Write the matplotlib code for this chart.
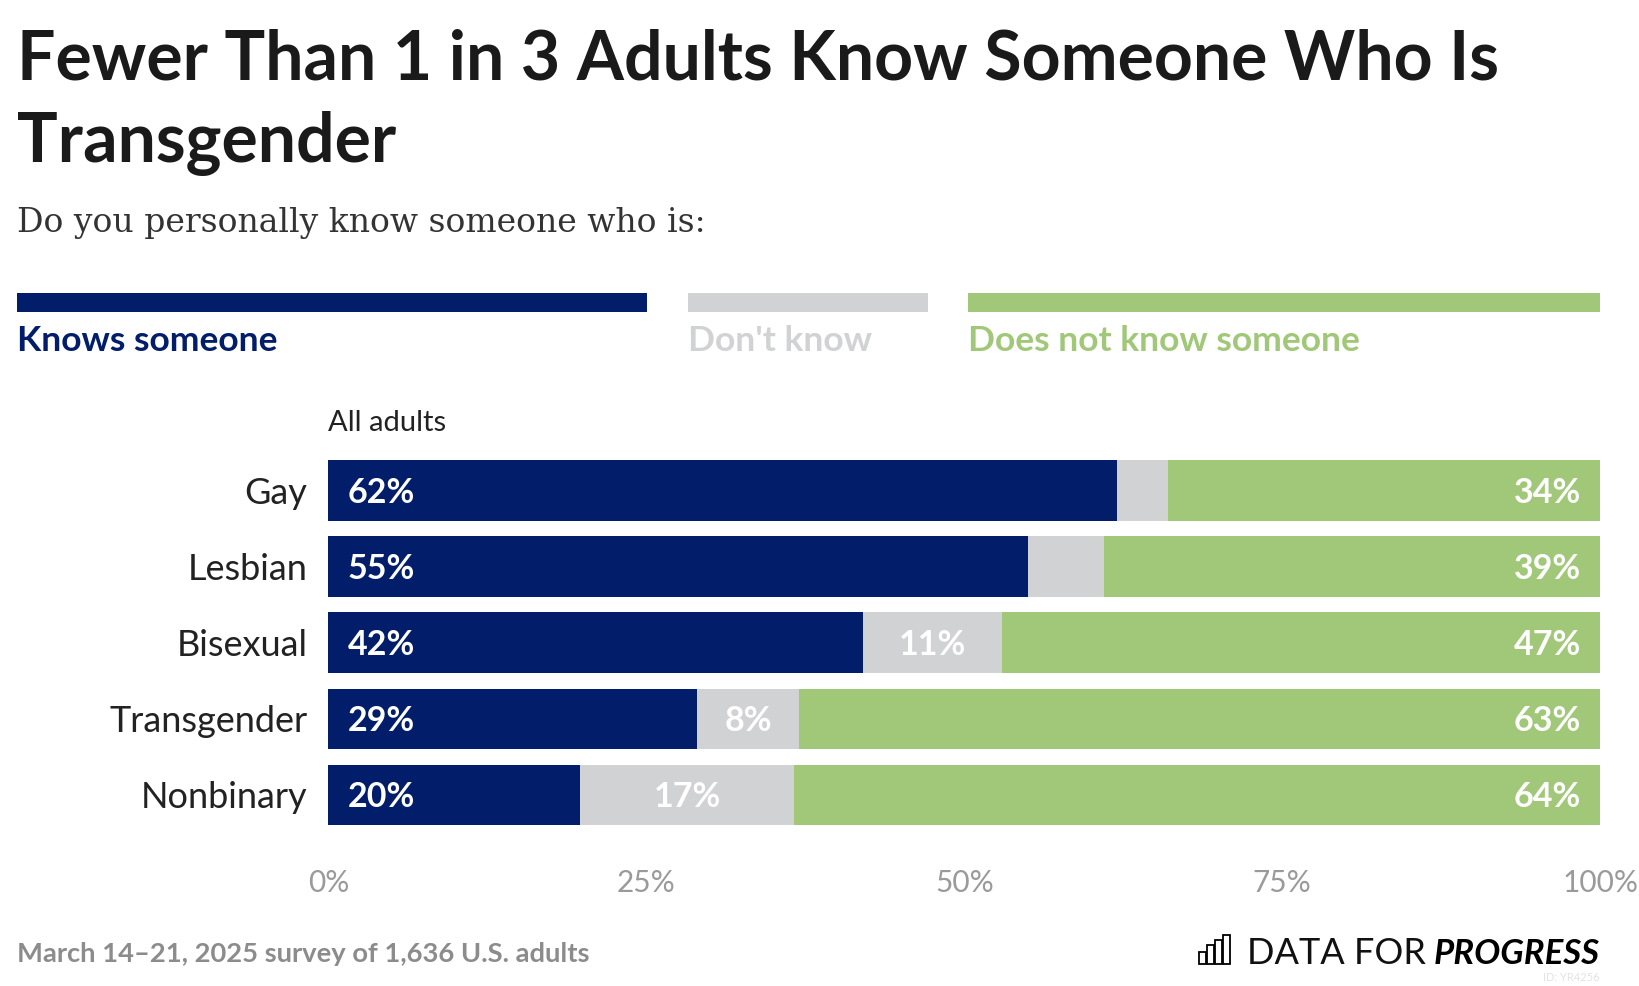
import numpy as np
import matplotlib
matplotlib.use('Agg')
import matplotlib.pyplot as plt
from matplotlib.patches import Rectangle

# Datos
categorias = ['Gay', 'Lesbian', 'Bisexual', 'Transgender', 'Nonbinary']
conoce = [62, 55, 42, 29, 20]
no_sabe = [4, 6, 11, 8, 17]
no_conoce = [34, 39, 47, 63, 64]
ticks = [0, 25, 50, 75, 100]
tick_labels = ['0%', '25%', '50%', '75%', '100%']

NAVY = '#021e6b'
GRIS = '#d1d2d4'
VERDE = '#a1c879'
SANS = ['Lato', 'DejaVu Sans']
SERIF = ['DejaVu Serif']

W, H = 1640, 986
plt.rcParams['font.family'] = SANS

fig = plt.figure(figsize=(W / 100, H / 100), dpi=100)

def fx(px):
    return px / W

def fy(py):
    return 1 - py / H

# Ejes de las barras
x0, x1 = 328.4, 1600.2
yc_top, yc_bot = 490.5, 794.9
paso = (yc_bot - yc_top) / 4
ytop = yc_top - paso / 2
ybot = yc_bot + paso / 2
ax = fig.add_axes([fx(x0), fy(ybot), (x1 - x0) / W, (ybot - ytop) / H])

tot = np.array(conoce) + np.array(no_sabe) + np.array(no_conoce)
a = np.array(conoce) / tot * 100
b = np.array(no_sabe) / tot * 100
c = np.array(no_conoce) / tot * 100
y = np.arange(len(categorias))
alto = 0.795

ax.barh(y, a, height=alto, color=NAVY, linewidth=0)
ax.barh(y, b, left=a, height=alto, color=GRIS, linewidth=0)
ax.barh(y, c, left=a + b, height=alto, color=VERDE, linewidth=0)

for i in range(len(categorias)):
    ax.annotate(f'{conoce[i]}%', (0, y[i] + 0.03), xytext=(14, 0), textcoords='offset points',
                ha='left', va='center', color='white', fontsize=24.5, fontweight='bold')
    if no_sabe[i] >= 8:
        ax.text(a[i] + b[i] / 2, y[i] + 0.03, f'{no_sabe[i]}%', ha='center', va='center',
                color='white', fontsize=24.5, fontweight='bold')
    ax.annotate(f'{no_conoce[i]}%', (100, y[i] + 0.03), xytext=(-14, 0),
                textcoords='offset points', ha='right', va='center', color='white',
                fontsize=24.5, fontweight='bold')

ax.set_xlim(0, 100)
ax.set_ylim(len(categorias) - 0.5, -0.5)
ax.set_yticks(y)
ax.set_yticklabels(categorias, fontsize=26, color='#222222')
ax.set_xticks(ticks)
ax.set_xticklabels(tick_labels, fontsize=21.5, color='#9a9a9a')
for lbl in ax.get_xticklabels():
    lbl.set_x(lbl.get_position()[0])
ax.tick_params(axis='y', length=0, pad=15)
ax.tick_params(axis='x', length=0, pad=26)
for s in ax.spines.values():
    s.set_visible(False)

# Titulo y subtitulo
fig.text(fx(17), fy(80), 'Fewer Than 1 in 3 Adults Know Someone Who Is', fontsize=49,
         fontweight='bold', color='#1a1a1a', va='baseline')
fig.text(fx(17), fy(162), 'Transgender', fontsize=49, fontweight='bold', color='#1a1a1a',
         va='baseline')
fig.text(fx(17), fy(232), 'Do you personally know someone who is:', fontsize=23.8,
         family=SERIF, color='#333333', va='baseline')

# Leyenda
leyenda = [('Knows someone', NAVY, 16.7, 647.4),
           ("Don't know", GRIS, 688.0, 927.7),
           ('Does not know someone', VERDE, 968.5, 1600.2)]
for txt, col, xa, xb in leyenda:
    fig.add_artist(Rectangle((fx(xa), fy(311.7)), (xb - xa) / W, (311.7 - 292.9) / H,
                             transform=fig.transFigure, color=col, lw=0))
    fig.text(fx(xa), fy(351), txt, fontsize=25.5, fontweight='bold', color=col, va='baseline')

fig.text(fx(x0), fy(431), 'All adults', fontsize=21, color='#222222', va='baseline')

# Pie
fig.text(fx(17), fy(962), 'March 14\u201321, 2025 survey of 1,636 U.S. adults', fontsize=19.7,
         fontweight='bold', color='#8c8c8c', va='baseline')

t2 = fig.text(fx(1600), fy(964), 'PROGRESS', fontsize=25, fontweight='bold', style='italic',
              color='black', ha='right', va='baseline')
fig.canvas.draw()
bb = t2.get_window_extent()
fig.text(bb.x0 / W - fx(8), fy(964), 'DATA FOR', fontsize=26, fontweight='normal',
         color='#111111', ha='right', va='baseline')

# Icono del logo
for k, h in enumerate([12, 19, 24, 29]):
    fig.add_artist(Rectangle((fx(1199 + k * 8), fy(964)), 7 / W, h / H,
                             transform=fig.transFigure, fill=False, ec='black', lw=1.3))

fig.text(fx(1600), fy(981), 'ID: YR4256', fontsize=8, color='#e3e3e3', ha='right',
         va='baseline')

fig.savefig('out.png', dpi=100)
